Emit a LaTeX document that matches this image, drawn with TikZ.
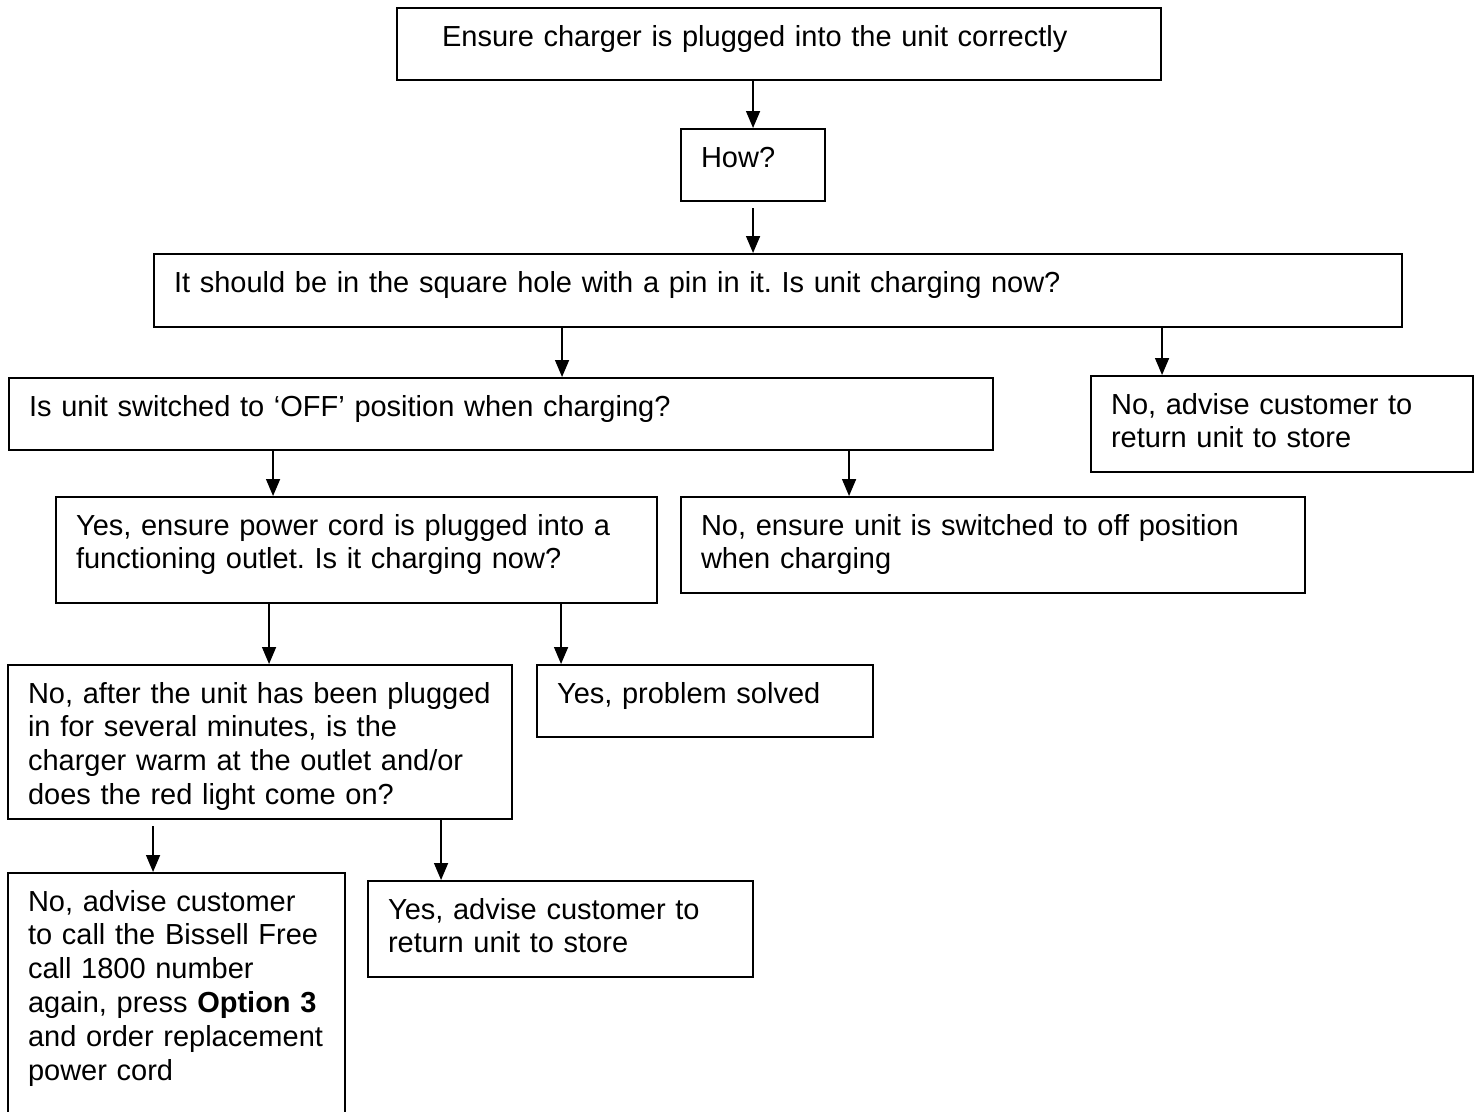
\documentclass[tikz,border=0pt]{standalone}
\usepackage{fontspec}
\setmainfont{Liberation Sans}
\usetikzlibrary{arrows.meta}
\frenchspacing

\tikzset{
  box/.style={draw, line width=1.2pt, anchor=north west, align=left,
    inner xsep=0.4cm, inner ysep=0pt, text height=0.76cm,
    font=\fontsize{16.5}{19.3}\selectfont}
}

\begin{document}
\begin{tikzpicture}[>={Triangle[length=0.34cm,width=0.28cm]}]
\useasboundingbox (0,0) rectangle (29.56,-22.22);
  \node[box, inner xsep=0.9cm, text width=13.48cm, text depth=0.68cm] (E) at (7.92,-0.14) {Ensure charger is plugged into the unit correctly};
  \node[box, text width=2.08cm, text depth=0.68cm]   (H)  at (13.6,-2.56)  {How?};
  \node[box, text width=24.16cm, text depth=0.70cm]  (Q1) at (3.06,-5.06)  {It should be in the square hole with a pin in it. Is unit charging now?};
  \node[box, text width=18.88cm, text depth=0.68cm]  (Q2) at (0.16,-7.54)  {Is unit switched to ‘OFF’ position when charging?};
  \node[box, text width=6.84cm, text depth=1.16cm]   (N1) at (21.8,-7.5)   {No, advise customer to\\return unit to store};
  \node[box, text width=11.22cm, text depth=1.36cm]  (Q3) at (1.1,-9.92)   {Yes, ensure power cord is plugged into a\\functioning outlet. Is it charging now?};
  \node[box, text width=11.68cm, text depth=1.16cm]  (N2) at (13.6,-9.92)  {No, ensure unit is switched to off position\\when charging};
  \node[box, text width=9.28cm, text depth=2.32cm]   (Q4) at (0.14,-13.28) {No, after the unit has been plugged\\in for several minutes, is the\\charger warm at the outlet and/or\\does the red light come on?};
  \node[box, text width=5.92cm, text depth=0.68cm]   (Y1) at (10.72,-13.28) {Yes, problem solved};
  \node[box, text width=5.94cm, text depth=4.44cm]   (N3) at (0.14,-17.44) {No, advise customer\\to call the Bissell Free\\call 1800 number\\again, press \textbf{Option 3}\\and order replacement\\power cord};
  \node[box, text width=6.9cm, text depth=1.16cm]    (Y2) at (7.34,-17.6)  {Yes, advise customer to\\return unit to store};

  \path[->, line width=0.9pt]
        ([xshift=-0.52cm]E.south) edge ([xshift=-0.52cm]E.south |- H.north)
        ([yshift=-0.12cm]H.south) edge (H.south |- Q1.north)
        ([xshift=-4.32cm]Q1.south) edge ([xshift=-4.32cm]Q1.south |- Q2.north)
        ([xshift=7.68cm]Q1.south) edge ([xshift=7.68cm]Q1.south |- N1.north)
        ([xshift=-4.56cm]Q2.south) edge ([xshift=-4.56cm]Q2.south |- Q3.north)
        ([xshift=6.96cm]Q2.south) edge ([xshift=6.96cm]Q2.south |- N2.north)
        ([xshift=-1.75cm]Q3.south) edge ([xshift=-1.75cm]Q3.south |- Q4.north)
        ([xshift=4.09cm]Q3.south) edge ([xshift=4.09cm]Q3.south |- Y1.north)
        ([xshift=-2.14cm,yshift=-0.12cm]Q4.south) edge ([xshift=-2.14cm]Q4.south |- N3.north)
        ([xshift=3.62cm]Q4.south) edge ([xshift=3.62cm]Q4.south |- Y2.north);
\end{tikzpicture}
\end{document}
